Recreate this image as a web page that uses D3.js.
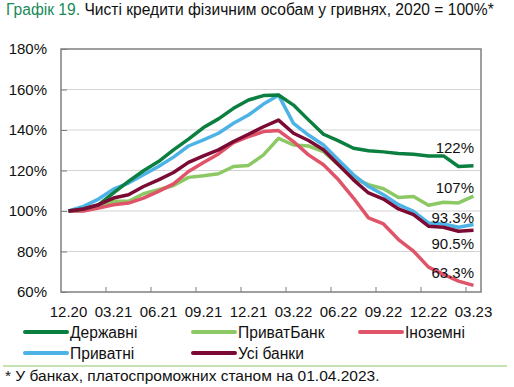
<!DOCTYPE html>
<html>
<head>
<meta charset="utf-8">
<script src="https://cdn.jsdelivr.net/npm/d3@7"></script>
<style>
  body { margin: 0; background: #fff; }
  svg { display: block; font-family: "Liberation Sans", Arial, sans-serif; }
</style>
</head>
<body>
<script>
// months 12.20 .. 03.23
const months = ["12.20","01.21","02.21","03.21","04.21","05.21","06.21","07.21","08.21","09.21","10.21","11.21",
  "12.21","01.22","02.22","03.22","04.22","05.22","06.22","07.22","08.22","09.22","10.22","11.22",
  "12.22","01.23","02.23","03.23"];
const tickLabels = ["12.20","03.21","06.21","09.21","12.21","03.22","06.22","09.22","12.22","03.23"];
const yTicks = [60, 80, 100, 120, 140, 160, 180];

const derzhavni = [100, 101, 103, 109, 114.6, 119.9, 124.4, 130.2, 135.5, 141.2, 145.5, 150.7, 154.8, 157, 157.3,
  152.3, 145, 137.9, 134.6, 131, 129.8, 129.2, 128.4, 128, 127.2, 127.2, 122, 122.3];
const pryvatBank = [100, 100.3, 102.3, 104.8, 104.8, 108.5, 110.5, 112.6, 116.6, 117.4, 118.4, 122, 122.5, 127.7, 135.9,
  132.6, 132.1, 129.3, 122.8, 116.2, 113, 111, 106.7, 107.2, 102.8, 104.3, 104, 107.3];
const inozemni = [100, 100, 101.5, 103.1, 103.9, 106.4, 109.7, 113.4, 119.5, 123.9, 128.2, 133.8, 136.7, 139.2, 139.7,
  134.3, 127.7, 122.8, 115.4, 106.4, 96.6, 93.6, 85.9, 80.2, 72.3, 68.7, 65.4, 63.3];
const pryvatni = [100, 102.3, 105.9, 110.8, 113.8, 117.9, 122, 126.6, 132.1, 135.1, 138.4, 143.3, 147.4, 152.8, 157.2,
  143.3, 137.5, 132.6, 125.2, 117.9, 112.1, 108, 103.1, 99.8, 94.1, 93.6, 92, 93.3];
const usiBanky = [100, 101, 103.1, 106.4, 108, 112.1, 115.4, 119, 124, 127.2, 130.2, 134.3, 137.9, 141.6, 144.9,
  138.4, 134.8, 130.2, 122.8, 115.4, 108.9, 105.9, 101, 98.2, 92.5, 92, 90, 90.5];

const endLabels = ["122%", "107%", "63.3%", "93.3%", "90.5%"];

const series = [
  { name: "Державні", values: derzhavni, color: "#0a7f3f", label: endLabels[0], dy: -13 },
  { name: "ПриватБанк", values: pryvatBank, color: "#8cc863", label: endLabels[1], dy: -3 },
  { name: "Іноземні", values: inozemni, color: "#e0546a", label: endLabels[2], dy: -7 },
  { name: "Приватні", values: pryvatni, color: "#4db3e6", label: endLabels[3], dy: -2 },
  { name: "Усі банки", values: usiBanky, color: "#7b0a35", label: endLabels[4], dy: 19 }
];

const W = 514, H = 387;
const svg = d3.select("body").append("svg").attr("width", W).attr("height", H);

const x = d3.scaleBand().domain(months).range([61, 481]).padding(0);
const xc = m => x(m) + x.bandwidth() / 2;
const y = d3.scaleLinear().domain([60, 180]).range([292, 49]);

// title
const title = svg.append("text").attr("x", 6).attr("y", 15).attr("font-size", 15.6);
title.append("tspan").attr("fill", "#1a8a5a").text("Графік 19. ");
title.append("tspan").attr("fill", "#111").text("Чисті кредити фізичним особам у гривнях, 2020 = 100%*");

// gridlines
svg.append("g").selectAll("line").data(yTicks.slice(1, -1)).enter().append("line")
  .attr("x1", 61).attr("x2", 481)
  .attr("y1", d => y(d)).attr("y2", d => y(d))
  .attr("stroke", "#d4d4d4").attr("stroke-width", 1);

// y axis (ticks inward)
const yAxis = svg.append("g").attr("transform", "translate(61,0)")
  .call(d3.axisRight(y).tickValues(yTicks).tickSize(6).tickFormat(""));
yAxis.select(".domain").remove();
yAxis.selectAll("line").attr("stroke", "#7f7f7f");
svg.append("g").selectAll("text").data(yTicks).enter().append("text")
  .attr("x", 47).attr("y", d => y(d) + 5)
  .attr("text-anchor", "end").attr("font-size", 15).attr("fill", "#111")
  .text(d => d + "%");

// x axis ticks between categories every 3 months
const tickMonths = months.filter((m, i) => i % 3 === 0 && i > 0);
svg.append("g").selectAll("line").data(tickMonths).enter().append("line")
  .attr("x1", d => x(d)).attr("x2", d => x(d))
  .attr("y1", 292).attr("y2", 287)
  .attr("stroke", "#7f7f7f").attr("stroke-width", 1);
svg.append("g").selectAll("text").data(tickLabels).enter().append("text")
  .attr("x", d => xc(d)).attr("y", 317)
  .attr("text-anchor", "middle").attr("font-size", 15).attr("fill", "#111")
  .text(d => d);

// frame
svg.append("rect").attr("x", 61).attr("y", 49).attr("width", 420).attr("height", 243)
  .attr("fill", "none").attr("stroke", "#7f7f7f").attr("stroke-width", 1.5);

// lines
const line = d3.line().x((d, i) => xc(months[i])).y(d => y(d));
const drawOrder = [1, 2, 3, 0, 4];
svg.append("g").selectAll("path").data(drawOrder.map(i => series[i])).enter().append("path")
  .attr("d", d => line(d.values))
  .attr("fill", "none").attr("stroke", d => d.color)
  .attr("stroke-width", 3.5).attr("stroke-linejoin", "round");

// end labels
svg.append("g").selectAll("text").data(series).enter().append("text")
  .attr("x", 474)
  .attr("y", d => y(d.values[d.values.length - 1]) + d.dy)
  .attr("text-anchor", "end").attr("font-size", 15).attr("fill", "#111")
  .text(d => d.label);

// legend
const legendPos = [[25, 332], [193, 332], [360, 332], [25, 353], [193, 353]];
const lg = svg.append("g").selectAll("g").data(series).enter().append("g")
  .attr("transform", (d, i) => `translate(${legendPos[i][0]},${legendPos[i][1]})`);
lg.append("line").attr("x1", 0).attr("x2", 42).attr("y1", 0).attr("y2", 0)
  .attr("stroke", d => d.color).attr("stroke-width", 4).attr("stroke-linecap", "round");
lg.append("text").attr("x", 45).attr("y", 5.5).attr("font-size", 15.6).attr("fill", "#111")
  .text(d => d.name);

// separator and footnote
svg.append("line").attr("x1", 3).attr("x2", 507).attr("y1", 366).attr("y2", 366)
  .attr("stroke", "#8cc863").attr("stroke-width", 1.2);
svg.append("text").attr("x", 5).attr("y", 381).attr("font-size", 15.5).attr("fill", "#111")
  .text("* У банках, платоспроможних станом на 01.04.2023.");
</script>
</body>
</html>
